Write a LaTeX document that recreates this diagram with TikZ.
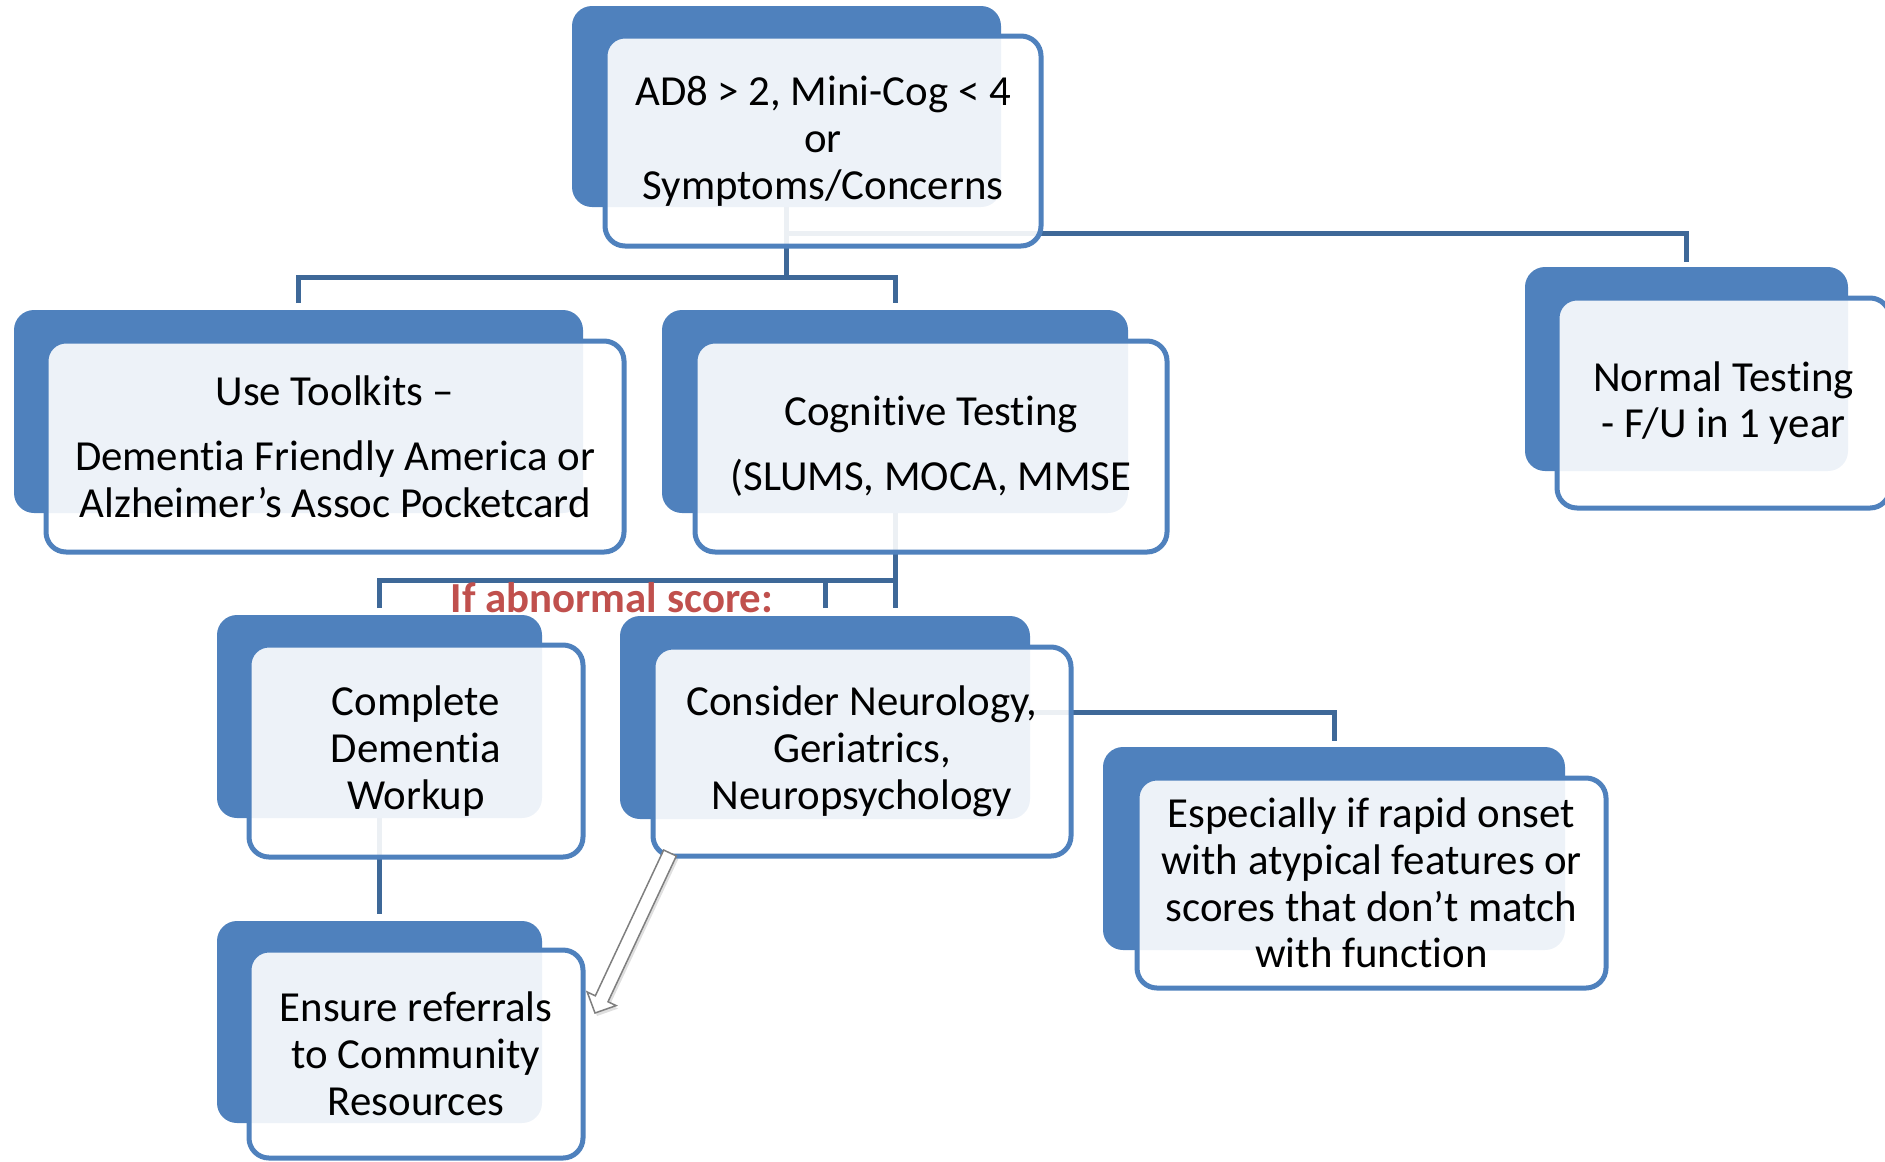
\documentclass[tikz,border=0pt]{standalone}
\usepackage{fontspec}
\setmainfont{Carlito}[Ligatures=NoCommon]
\usetikzlibrary{calc,shadows}
\pgfdeclarelayer{bg}
\pgfsetlayers{bg,main}
\definecolor{boxblue}{RGB}{79,129,189}
\definecolor{linkblue}{RGB}{62,104,152}
\definecolor{scorered}{RGB}{192,80,77}
\definecolor{arrowgray}{RGB}{127,127,127}
\begin{document}
\begin{tikzpicture}[x=1bp,y=-1bp,
  backbox/.style={fill=boxblue, rounded corners=20bp, inner sep=0pt, outer sep=0pt, anchor=north west},
  frontbox/.style={draw=boxblue, line width=5bp, fill=white, fill opacity=0.9, draw opacity=1, rounded corners=20bp, inner sep=0pt, outer sep=0pt, anchor=north west},
  boxtext/.style={font=\fontsize{43}{47}\selectfont, align=center, text=black, inner sep=0pt},
  link/.style={draw=linkblue, line width=5bp, line join=miter}
]
\useasboundingbox (0,0) rectangle (1885,1161);
\clip (0,0) rectangle (1885,1161);

% top
\node[backbox, minimum width=429bp, minimum height=201bp] (topB) at (572,6) {};
\node[frontbox, minimum width=436bp, minimum height=210bp] (topF) at (605,36) {};
\node[boxtext] (topT) at (topF.center) {AD8 > 2, Mini-Cog < 4\\or\\Symptoms/Concerns};

% toolkits
\node[backbox, minimum width=569bp, minimum height=203bp] (toolB) at (14,310) {};
\node[frontbox, minimum width=578bp, minimum height=211bp] (toolF) at (46,341) {};
\node[boxtext] (toolT) at (toolF.center) {Use Toolkits --\\[18bp]Dementia Friendly America or\\Alzheimer’s Assoc Pocketcard};

% cognitive
\node[backbox, minimum width=466bp, minimum height=203bp] (cogB) at (662,310) {};
\node[frontbox, minimum width=472bp, minimum height=211bp] (cogF) at (695,341) {};
\node[boxtext] (cogT) at (cogF.center) {Cognitive Testing\\[18bp](SLUMS, MOCA, MMSE};

% normal
\node[backbox, minimum width=323bp, minimum height=204bp] (normB) at (1525,267) {};
\node[frontbox, minimum width=333bp, minimum height=210bp] (normF) at (1557,298) {};
\node[boxtext] (normT) at (normF.center) {Normal Testing\\- F/U in 1 year};

% complete
\node[backbox, minimum width=325bp, minimum height=203bp] (compB) at (217,615) {};
\node[frontbox, minimum width=334bp, minimum height=212bp] (compF) at (249,645) {};
\node[boxtext] (compT) at (compF.center) {Complete\\Dementia\\Workup};

% consider
\node[backbox, minimum width=410bp, minimum height=203bp] (consB) at (620,616) {};
\node[frontbox, minimum width=418bp, minimum height=209bp] (consF) at (653,647) {};
\node[boxtext] (consT) at (consF.center) {Consider Neurology,\\Geriatrics,\\Neuropsychology};

% especially
\node[backbox, minimum width=462bp, minimum height=203bp] (espB) at (1103,747) {};
\node[frontbox, minimum width=469bp, minimum height=210bp] (espF) at (1137,778) {};
\node[boxtext] (espT) at (espF.center) {Especially if rapid onset\\with atypical features or\\scores that don’t match\\with function};

% ensure
\node[backbox, minimum width=325bp, minimum height=202bp] (ensB) at (217,921) {};
\node[frontbox, minimum width=334bp, minimum height=208bp] (ensF) at (249,950) {};
\node[boxtext] (ensT) at (ensF.center) {Ensure referrals\\to Community\\Resources};

% label
\node[font=\fontsize{43}{47}\selectfont\bfseries, text=scorered, inner sep=0pt] (abn) at (612,598) {If abnormal score:};

% connectors (behind)
\begin{pgfonlayer}{bg}
\coordinate (j1) at ($(topB.south)+(0,70)$);
\draw[link] (topB.south) -- (j1);
\draw[link] ($(toolB.north)+(0,-7)$) |- (j1) -| ($(cogB.north)+(0,-7)$);
\draw[link] ($(topB.south)+(0,26)$) -| ($(normB.north)+(0,-5)$);
\coordinate (j2) at ($(cogB.south)+(0,67)$);
\draw[link] (cogB.south) -- ($(cogB.south)+(0,95)$);
\draw[link] ($(compB.north)+(0,-7)$) |- (j2);
\draw[link] ($(consB.north)+(0,-8)$) -- ($(consB.north)+(0,-36)$);
\draw[link] ($(consB.east)+(0,-5)$) -| ($(espB.north)+(0,-6)$);
\draw[link] (compB.south) -- ($(ensB.north)+(0,-7)$);
\end{pgfonlayer}

% block arrow
\coordinate (arT) at (670,853);
\coordinate (arH) at (595,1013);
\coordinate (arB) at ($(arT)!161bp!(arH)$);
\filldraw[fill=white, draw=arrowgray, line width=1.5bp, line join=miter,
  drop shadow={shadow xshift=2bp, shadow yshift=-3bp, opacity=0.25}]
  ($(arT)!7bp!90:(arH)$) -- ($(arB)!7bp!90:(arH)$) -- ($(arB)!16bp!90:(arH)$) -- (arH)
  -- ($(arB)!16bp!-90:(arH)$) -- ($(arB)!7bp!-90:(arH)$) -- ($(arT)!7bp!-90:(arH)$) -- cycle;
\end{tikzpicture}
\end{document}
